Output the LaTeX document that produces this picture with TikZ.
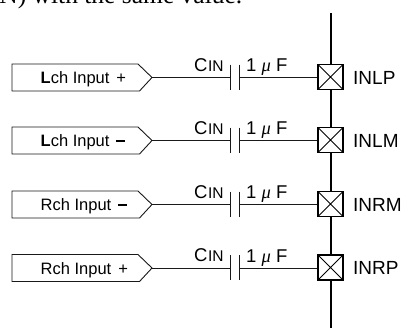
\documentclass[tikz,border=0pt]{standalone}
\usepackage{fontspec}
\setmainfont{Liberation Sans}
\newfontfamily\serifface{Liberation Serif}
\usetikzlibrary{calc}
\tikzset{x=1pt,y=-1pt,
 wire/.style={line width=0.9pt,black!90},
 plate/.style={line width=0.9pt,black!90},
 bus/.style={line width=2.5pt,black},
 portbox/.style={line width=0.9pt,black!90,fill=white},
 portlabel/.style={inner sep=0pt,font=\fontsize{16.5}{18}\selectfont,anchor=base west},
 pinlabel/.style={inner sep=0pt,font=\fontsize{19}{20}\selectfont,anchor=base west},
 partlabel/.style={inner sep=0pt,font=\fontsize{18.5}{20}\selectfont,anchor=base west},
 pad/.style={draw=black,line width=1.1pt,fill=white,minimum size=25pt,inner sep=0pt,
   path picture={\draw[line width=0.8pt] (path picture bounding box.north west)--(path picture bounding box.south east)
   (path picture bounding box.north east)--(path picture bounding box.south west);}},
}
\newcommand{\plusmark}{\hspace{7pt}+}
\newcommand{\minusmark}{\hspace{7pt}\rule[4.8pt]{9pt}{2pt}}
\newcommand{\inrow}[4]{%
 % #1 id, #2 y, #3 port text, #4 pin text
 \coordinate (tip#1) at (152,#2);
 \draw[portbox] (12,#2-13.5) -- (138,#2-13.5) -- (tip#1) -- (139.5,#2+13.5) -- (12,#2+13.5) -- cycle;
 \node[portlabel] (port#1) at (40.5,#2+6) {#3};
 \coordinate (capl#1) at (230,#2);
 \coordinate (capr#1) at (239.5,#2);
 \draw[wire] (tip#1) -- (capl#1);
 \draw[plate] (230,#2-13) -- (230,#2+12) (239.5,#2-13) -- (239.5,#2+12);
 \node[pad] (pad#1) at (330.5,#2-0.5) {};
 \draw[wire] (capr#1) -- (pad#1.west |- capr#1);
 \node[pinlabel] (pin#1) at (353,#2+6.5) {#4};
 \node[partlabel] (cin#1) at (194,#2-6.5) {C{\fontsize{15.5}{18}\selectfont\kern0.5pt IN}};
 \node[partlabel] (val#1) at (246,#2-6) {1 {\serifface\itshape μ} F};
}
\begin{document}
\begin{tikzpicture}
\useasboundingbox (0,0) rectangle (403,329);
\fill[white] (0,0) rectangle (403,329);
\node[anchor=base east,inner sep=0pt,font=\serifface\fontsize{25.5}{28}\selectfont] (head) at (242.5,3.5) {N) with the same value.};
\coordinate (bustop) at (331,13);
\coordinate (busbot) at (331,328);
\draw[bus] (bustop) -- (busbot);
\inrow{a}{77.5}{\textbf{L}ch Input\plusmark}{INLP}
\inrow{b}{140.5}{\textbf{L}ch Input\minusmark}{INLM}
\inrow{c}{204.5}{Rch Input\minusmark}{INRM}
\inrow{d}{268}{Rch Input\plusmark}{INRP}
\end{tikzpicture}
\end{document}
